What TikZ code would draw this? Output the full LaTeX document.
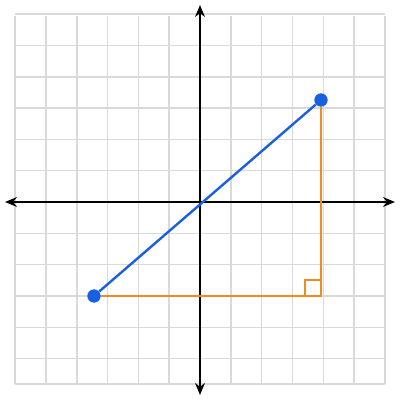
\documentclass[tikz,border=0pt]{standalone}
\usetikzlibrary{arrows.meta,calc}
\definecolor{gridgray}{HTML}{D9D9D9}
\definecolor{segblue}{HTML}{1A5FE0}
\definecolor{legorange}{HTML}{F08C1E}

\begin{document}
\begin{tikzpicture}[x=0.025cm,y=-0.025cm,
  gridline/.style={draw=gridgray,line width=1pt},
  axisline/.style={draw=black,line width=1.3pt,{Stealth[length=8.5pt,width=7pt]}-{Stealth[length=8.5pt,width=7pt]}},
  dot/.style={circle,fill=segblue,inner sep=0,minimum size=9.5pt},
  hyp/.style={draw=segblue,line width=1.7pt},
  leg/.style={draw=legorange,line width=1.7pt}]
\useasboundingbox (0,0) rectangle (400,400);
% grid
\foreach \i in {-6,...,6}
  \draw[gridline] (200+30.8*\i,16) -- (200+30.8*\i,384);
\foreach \j in {-6,...,5}
  \draw[gridline] (14.5,202+31.3*\j) -- (384.5,202+31.3*\j);
\draw[gridline] (14.5,384) -- (384.5,384);
% axes
\coordinate (xl) at (5,202);
\coordinate (xr) at (395,202);
\coordinate (yt) at (200,5);
\coordinate (yb) at (200,395);
\draw[axisline] (xl) -- (xr);
\draw[axisline] (yb) -- (yt);
% points
\node[dot] (P) at (94,296) {};
\node[dot] (Q) at (321,100) {};
\coordinate (R) at (321,296);
\draw[leg] (P) -- (R) -- (Q);
\draw[leg,line width=1.5pt] ($(R)+(-16,0)$) -- ++(0,-16) -- ++(16,0);
\draw[hyp] (P) -- (Q);
\end{tikzpicture}
\end{document}
